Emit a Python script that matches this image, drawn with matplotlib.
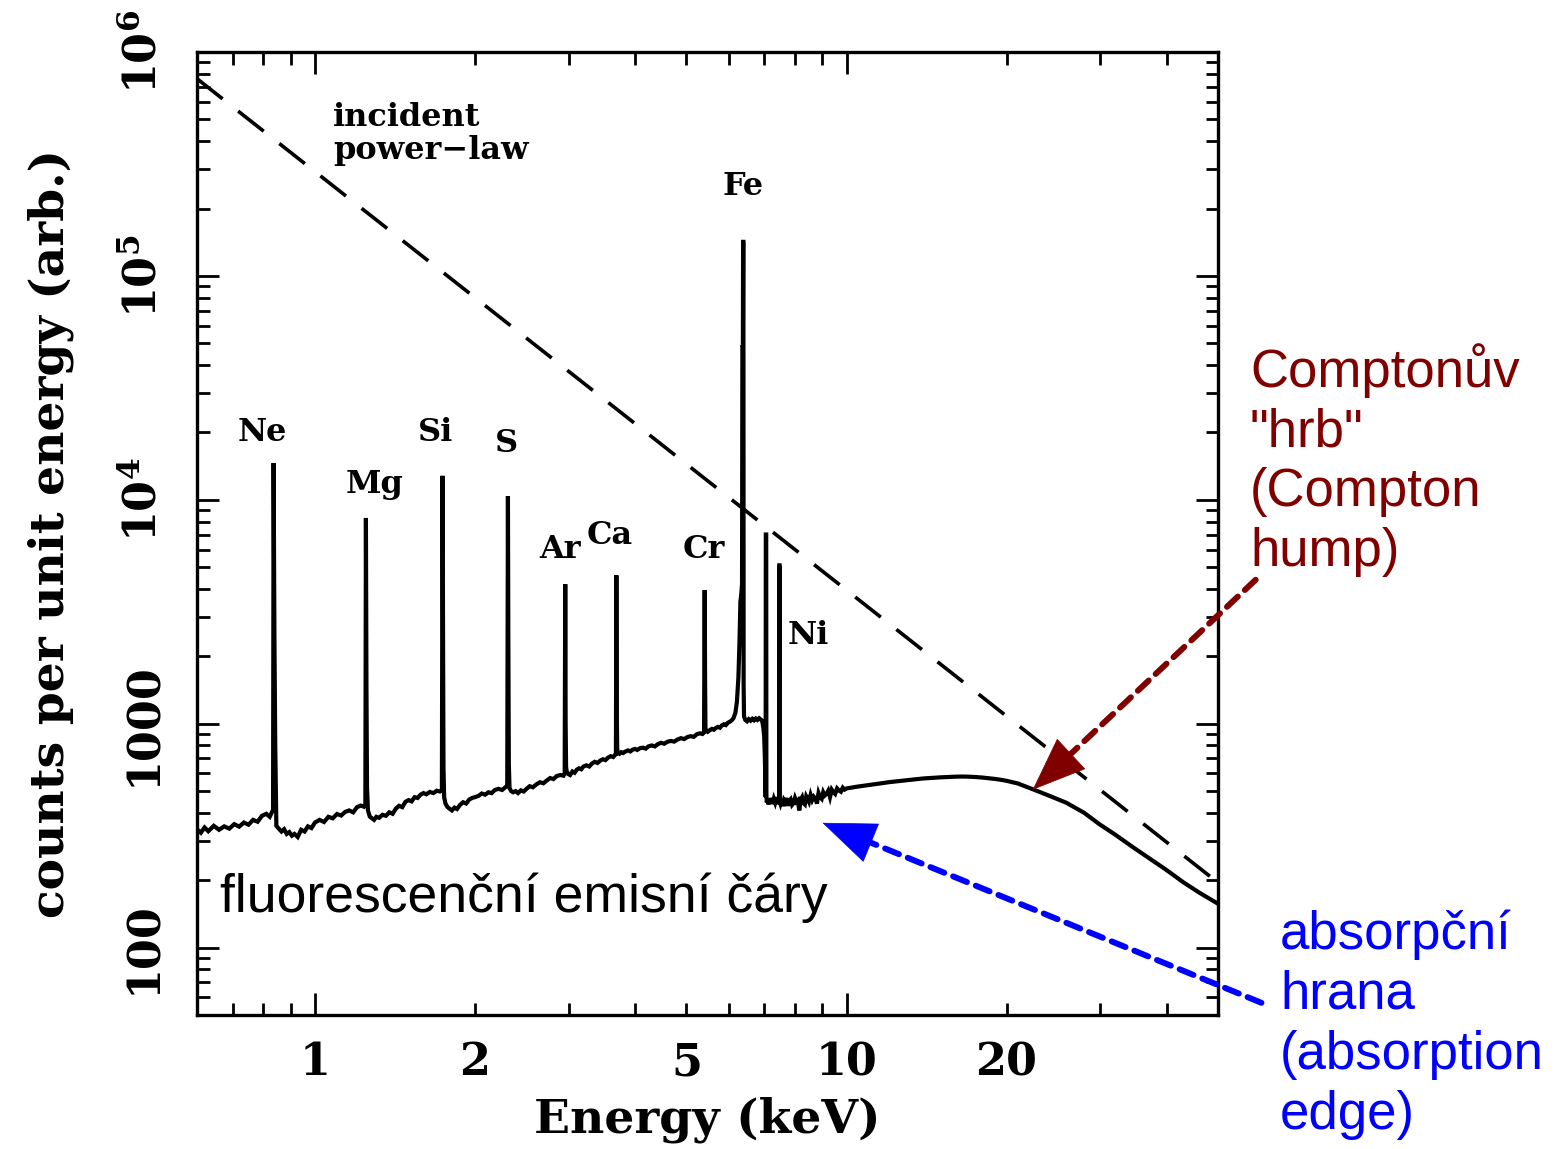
import matplotlib
matplotlib.use("Agg")
import matplotlib.pyplot as plt
from matplotlib.ticker import LogLocator, NullFormatter
import numpy as np

plt.rcParams['mathtext.fontset'] = 'dejavuserif'

# ---------------- data ----------------
# incident power law (straight line in log-log)
pl_energy = [0.6, 50.0]
pl_counts = [7.6e5, 195.0]

# reflected spectrum, soft part (0.6 - 6.36 keV) incl. Ne, Mg, Si, S, Ar, Ca, Cr lines
e_soft = [0.600, 0.610, 0.620, 0.630, 0.645, 0.660, 0.675, 0.690, 0.705, 0.720,
          0.735, 0.750, 0.765, 0.780, 0.795, 0.810, 0.822, 0.831,
          0.834, 0.836, 0.839, 0.842, 0.846,
          0.855, 0.865, 0.875, 0.885, 0.895, 0.905, 0.915, 0.928, 0.942, 0.956,
          0.970, 0.985, 1.000, 1.020, 1.040, 1.060, 1.080, 1.100, 1.120, 1.140,
          1.160, 1.180, 1.200, 1.220, 1.236,
          1.244, 1.247, 1.250, 1.253, 1.258,
          1.268, 1.280, 1.292, 1.305, 1.320, 1.340, 1.360, 1.380, 1.400, 1.420,
          1.440, 1.460, 1.480, 1.500, 1.520, 1.540, 1.560, 1.580, 1.600, 1.620,
          1.645, 1.670, 1.695, 1.718,
          1.733, 1.738, 1.741, 1.745, 1.750,
          1.760, 1.775, 1.790, 1.810, 1.830, 1.850, 1.875, 1.900, 1.925, 1.950,
          1.975, 2.000, 2.030, 2.060, 2.090, 2.120, 2.150, 2.180, 2.215, 2.250, 2.285,
          2.300, 2.307, 2.311, 2.316, 2.323,
          2.340, 2.360, 2.385, 2.410, 2.440, 2.470, 2.500, 2.535, 2.570, 2.610,
          2.650, 2.690, 2.730, 2.770, 2.810, 2.850, 2.895, 2.935,
          2.950, 2.957, 2.962, 2.968, 2.976,
          2.995, 3.020, 3.050, 3.080, 3.110, 3.140, 3.170, 3.200, 3.240, 3.280,
          3.320, 3.360, 3.400, 3.440, 3.480, 3.520, 3.560, 3.600, 3.640, 3.670,
          3.683, 3.690, 3.697, 3.704, 3.714,
          3.740, 3.770, 3.800, 3.840, 3.880, 3.920, 3.960, 4.000, 4.040, 4.090,
          4.140, 4.190, 4.240, 4.300, 4.360, 4.420, 4.480, 4.540, 4.600, 4.670,
          4.740, 4.810, 4.880, 4.950, 5.020, 5.090, 5.160, 5.230, 5.300, 5.360,
          5.395, 5.410, 5.420, 5.428, 5.440,
          5.480, 5.530, 5.580, 5.630, 5.680, 5.730, 5.780, 5.830, 5.880, 5.930,
          5.980, 6.030, 6.080, 6.130, 6.180, 6.220, 6.260, 6.290, 6.315, 6.340, 6.360]
c_soft = [338, 326, 344, 331, 350, 336, 348, 340, 356, 347,
          362, 354, 372, 365, 388, 396, 384, 405,
          410, 14600, 2400, 800, 350,
          340, 330, 338, 322, 328, 316, 322, 312, 336, 330,
          348, 342, 362, 372, 364, 384, 378, 395, 389, 404,
          410, 402, 424, 431, 426,
          436, 8300, 1400, 520, 410,
          385, 378, 372, 384, 380, 392, 388, 402, 396, 418,
          430, 424, 448, 456, 450, 470, 466, 482, 490, 484,
          496, 490, 502, 498,
          505, 12800, 3000, 640, 470,
          440, 425, 418, 410, 422, 416, 434, 446, 440, 458,
          466, 470, 476, 488, 482, 494, 490, 506, 512, 506, 522,
          528, 10400, 2400, 660, 515,
          500, 494, 500, 490, 504, 498, 512, 526, 520, 536,
          548, 542, 558, 572, 566, 584, 590, 586,
          600, 4200, 1000, 640, 612,
          596, 590, 612, 604, 624, 632, 626, 644, 652, 644,
          664, 676, 668, 684, 694, 688, 706, 716, 710, 726,
          730, 4600, 1100, 770, 742,
          734, 746, 740, 752, 760, 752, 766, 772, 764, 778,
          782, 774, 792, 800, 792, 812, 822, 814, 830, 838,
          832, 850, 862, 854, 872, 880, 874, 898, 906, 900,
          915, 3950, 1500, 960, 930,
          920, 936, 948, 940, 958, 968, 960, 984, 994, 986,
          1010, 1020, 1035, 1060, 1120, 1250, 1600, 2300, 3500, 3800, 4200]

# Fe K region: Fe Kalpha, Fe K edge, Fe Kbeta, Ni Kalpha (6.37 - 10 keV)
e_fe = [6.370, 6.383, 6.390, 6.398, 6.404, 6.415,
        6.450, 6.500, 6.550, 6.600, 6.650, 6.700, 6.750, 6.800, 6.850, 6.900,
        6.940, 6.975, 7.000, 7.020, 7.035, 7.045,
        7.050, 7.062, 7.068,
        7.080, 7.100, 7.130, 7.160, 7.190, 7.220, 7.260, 7.300, 7.340, 7.380,
        7.420, 7.455,
        7.468, 7.474, 7.482, 7.487,
        7.510, 7.550, 7.590, 7.630, 7.670, 7.710, 7.750, 7.800, 7.850, 7.900,
        7.950, 8.000, 8.050, 8.100, 8.150, 8.200, 8.250, 8.300, 8.350, 8.400,
        8.450, 8.500, 8.560, 8.620, 8.680, 8.740, 8.800, 8.860, 8.920, 8.980,
        9.040, 9.100, 9.170, 9.240, 9.310, 9.380, 9.450, 9.520, 9.600, 9.680,
        9.760, 9.840, 9.920]
c_fe = [48000, 48000, 142000, 142000, 1500, 1080,
        1040, 1025, 1048, 1032, 1052, 1036, 1055, 1040, 1058, 1044,
        1030, 960, 880, 720, 560, 470,
        7000, 7000, 480,
        445, 462, 436, 458, 440, 466, 438, 462, 445, 470,
        438, 455,
        460, 5100, 5100, 450,
        440, 462, 428, 456, 447, 466, 430, 452, 460, 434,
        442, 466, 448, 455, 410, 458, 470, 442, 436, 474,
        462, 448, 481, 456, 472, 463, 440, 490, 470, 462,
        494, 478, 486, 502, 470, 508, 495, 486, 514, 503,
        497, 518, 508]

# hard part: Compton hump (10 - 50 keV)
e_hard = [10.0, 10.5, 11.0, 11.5, 12.0, 12.5, 13.0, 13.5, 14.0, 14.5, 15.0,
          15.5, 16.0, 16.5, 17.0, 17.5, 18.0, 18.5, 19.0, 19.5, 20.0, 21.0,
          22.4, 24.0, 25.9, 28.0, 29.9, 32.0, 34.5, 37.0, 39.9, 43.0, 46.1, 50.0]
c_hard = [514, 524, 532, 540, 548, 554, 560, 565, 570, 573, 576,
          578, 580, 581, 580, 578, 575, 571, 567, 562, 556, 541,
          510, 478, 444, 400, 356, 320, 282, 252, 223, 196, 176, 157]

# line labels
element_names = ['Ne', 'Mg', 'Si', 'S', 'Ar', 'Ca', 'Cr', 'Fe', 'Ni']
label_energy = [0.795, 1.297, 1.688, 2.296, 2.887, 3.585, 5.385, 6.375, 8.48]
label_counts = [1.99e4, 1.17e4, 1.99e4, 1.79e4, 6.0e3, 6.9e3, 6.0e3, 2.5e5, 2.47e3]

# ticks
x_major = [1, 10]
x_major_labels = ['1', '10']
x_minor = [0.7, 0.8, 0.9, 2, 3, 4, 5, 6, 7, 8, 9, 20, 30, 40]
x_minor_labels = ['', '', '', '2', '', '', '5', '', '', '', '', '20', '', '']
y_major = [100, 1000, 1e4, 1e5, 1e6]
y_major_labels = ['100', '1000', r'10$^\mathbf{4}$', r'10$^\mathbf{5}$', r'10$^\mathbf{6}$']

# ---------------- figure ----------------
fig = plt.figure(figsize=(15.65, 11.49), dpi=100)
fig.patch.set_facecolor('white')
ax = fig.add_axes([0.1259, 0.1166, 0.6524, 0.8381])
ax.set_xscale('log')
ax.set_yscale('log')

energy = np.concatenate([e_soft, e_fe, e_hard])
counts = np.concatenate([c_soft, c_fe, c_hard])

ax.plot(energy, counts, color='black', lw=3.0, solid_joinstyle='miter')
ax.plot(pl_energy, pl_counts, color='black', lw=2.6, dashes=(9, 5.5))

ax.set_xlim(0.6, 50)
ax.set_ylim(50, 1e6)

serif = 'DejaVu Serif'
ax.set_xticks(x_major, labels=x_major_labels)
ax.set_xticks(x_minor, labels=x_minor_labels, minor=True)
ax.set_yticks(y_major, labels=y_major_labels)
ax.yaxis.set_minor_locator(LogLocator(base=10, subs=np.arange(2, 10), numticks=20))
ax.yaxis.set_minor_formatter(NullFormatter())

for lab in ax.get_xticklabels(which='both'):
    lab.set_fontfamily(serif)
    lab.set_fontweight('bold')
    lab.set_fontsize(32)
for lab in ax.get_yticklabels():
    lab.set_fontfamily(serif)
    lab.set_fontweight('bold')
    lab.set_fontsize(32)
    lab.set_rotation(90)
    lab.set_va('center')

ax.tick_params(which='both', direction='in', top=True, right=True, width=2.0)
ax.tick_params(which='major', length=16)
ax.tick_params(which='minor', length=9)
ax.tick_params(axis='x', which='both', pad=19)
ax.tick_params(axis='y', which='both', pad=23)
for sp in ax.spines.values():
    sp.set_linewidth(2.4)

ax.set_xlabel('Energy (keV)', fontfamily=serif, fontweight='bold', fontsize=34, labelpad=9)
ax.set_ylabel('counts per unit energy (arb.)', fontfamily=serif, fontweight='bold',
              fontsize=34, labelpad=34)

for name, ex, cy in zip(element_names, label_energy, label_counts):
    ax.text(ex, cy, name, fontfamily=serif, fontweight='bold', fontsize=23,
            ha='center', va='center')
ax.text(1.081, 6.0e5, 'incident\npower\u2212law', fontfamily=serif, fontweight='bold',
        fontsize=23, ha='left', va='top', linespacing=1.1)

# ---------------- annotations ----------------
sans = 'Liberation Sans'
dark_red = '#800000'
blue = '#0000ff'

fig.text(1250 / 1565, 1 - 343 / 1149, 'Comptonův\n"hrb"\n(Compton\nhump)',
         fontfamily=sans, fontsize=38, color=dark_red, ha='left', va='top', linespacing=1.25)
fig.text(1280 / 1565, 1 - 909 / 1149, 'absorpční\nhrana\n(absorption\nedge)',
         fontfamily=sans, fontsize=38, color=blue, ha='left', va='top', linespacing=1.26)
fig.text(220 / 1565, 1 - 912 / 1149, 'fluorescenční emisní čáry',
         fontfamily=sans, fontsize=38.5, color='black', ha='left', va='baseline')

# red (Compton hump) arrow
red_tip = (22.4, 507)
ax.annotate('', xy=red_tip, xytext=(223, 210), textcoords='offset pixels',
            annotation_clip=False,
            arrowprops=dict(arrowstyle='-', color=dark_red, lw=4.3, ls=(0, (2.5, 1.6)),
                            shrinkA=0, shrinkB=20))
ax.annotate('', xy=red_tip, xytext=(36.6, 34.1), textcoords='offset pixels',
            annotation_clip=False,
            arrowprops=dict(arrowstyle='-|>,head_length=3.7,head_width=1.45',
                            mutation_scale=10, color=dark_red, lw=0.5,
                            shrinkA=0, shrinkB=0))

# blue (absorption edge) arrow
blue_tip = (9.01, 361)
ax.annotate('', xy=blue_tip, xytext=(439, -180), textcoords='offset pixels',
            annotation_clip=False,
            arrowprops=dict(arrowstyle='-', color=blue, lw=4.3, ls=(0, (2.5, 1.6)),
                            shrinkA=0, shrinkB=20))
ax.annotate('', xy=blue_tip, xytext=(46.3, -19.0), textcoords='offset pixels',
            annotation_clip=False,
            arrowprops=dict(arrowstyle='-|>,head_length=3.7,head_width=1.45',
                            mutation_scale=10, color=blue, lw=0.5,
                            shrinkA=0, shrinkB=0))

fig.savefig('out.png', dpi=100, facecolor='white')
